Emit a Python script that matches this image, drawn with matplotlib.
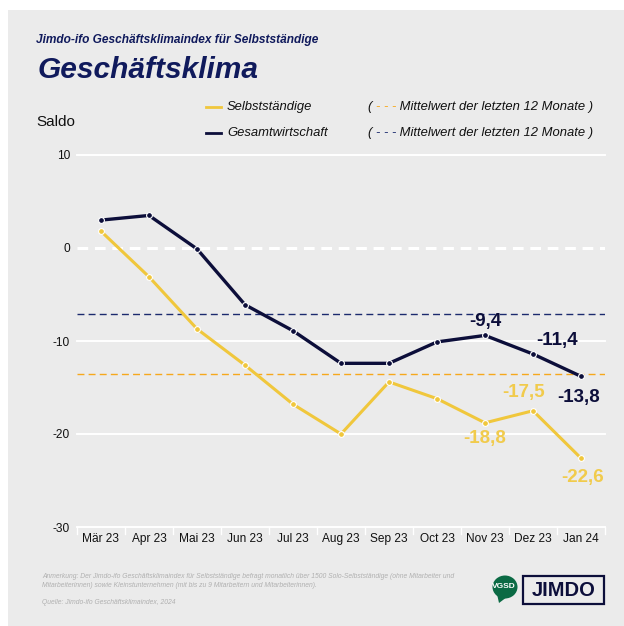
import matplotlib
matplotlib.use("Agg")
import matplotlib.pyplot as plt
from matplotlib.lines import Line2D
from matplotlib.patches import Rectangle, Ellipse, Polygon

plt.rcParams['font.family'] = ['Liberation Sans', 'DejaVu Sans']

# ---------------- data ----------------
months = ["Mär 23", "Apr 23", "Mai 23", "Jun 23", "Jul 23", "Aug 23",
          "Sep 23", "Oct 23", "Nov 23", "Dez 23", "Jan 24"]
selbst = [1.8, -3.1, -8.7, -12.6, -16.8, -20.0, -14.4, -16.2, -18.8, -17.5, -22.6]
gesamt = [3.0, 3.5, -0.1, -6.1, -8.9, -12.4, -12.4, -10.1, -9.4, -11.4, -13.8]
mean_selbst = -13.6
mean_gesamt = -7.1
yticks = [10, 0, -10, -20, -30]

# labelled points: (index, dx_pt, dy_pt)
labels_gesamt = [(8, 0, 10), (9, 17, 10), (10, -2, -15)]
labels_selbst = [(9, -7, 13), (8, 0, -11), (10, 1, -14)]

NAVY = "#0c0e3a"
NAVY_T = "#101a5c"
YELLOW = "#f0c73c"
YELLOW_T = "#f1cb4c"
ORANGE = "#f6a81c"
NAVY_D = "#1b2a6e"
BG = "#ebebeb"

W, H = 624, 626
fig = plt.figure(figsize=(W / 100, H / 100), dpi=100, facecolor="white")

def fx(px):
    return px / W

def fy(py):
    return 1 - py / H

# gray panel
fig.add_artist(Rectangle((fx(8), 0), 1 - fx(8), fy(10), transform=fig.transFigure,
                         facecolor=BG, edgecolor="none", zorder=0))

ax = fig.add_axes([fx(77), fy(527), fx(605) - fx(77), fy(155) - fy(527)])
ax.set_facecolor(BG)
for s in ax.spines.values():
    s.set_visible(False)

x = list(range(len(months)))
ax.set_xlim(-0.5, len(months) - 0.5)
ax.set_ylim(-30, 10)

# gridlines
for v in yticks:
    if v == 0:
        ax.axhline(v, color="white", lw=2.2, ls=(0, (3.5, 2.2)), zorder=1)
    else:
        ax.axhline(v, color="white", lw=1.4, zorder=1, clip_on=False)

# mean lines
ax.axhline(mean_gesamt, color=NAVY_D, lw=1.0, ls=(0, (5, 3)), zorder=2)
ax.axhline(mean_selbst, color=ORANGE, lw=1.0, ls=(0, (5, 3)), zorder=2)

ax.plot(x, selbst, color=YELLOW, lw=2.2, marker="o", ms=4.2,
        markerfacecolor=YELLOW, markeredgecolor="white", markeredgewidth=0.8, zorder=3,
        solid_joinstyle="round")
ax.plot(x, gesamt, color=NAVY, lw=2.4, marker="o", ms=4.2,
        markerfacecolor=NAVY, markeredgecolor="white", markeredgewidth=0.8, zorder=4,
        solid_joinstyle="round")

def fmt(v):
    return f"{v:.1f}".replace(".", ",")

for i, dx, dy in labels_gesamt:
    ax.annotate(fmt(gesamt[i]), (x[i], gesamt[i]), xytext=(dx, dy), textcoords="offset points",
                ha="center", va="center", fontsize=13.5, fontweight="bold", color=NAVY, zorder=6)
for i, dx, dy in labels_selbst:
    ax.annotate(fmt(selbst[i]), (x[i], selbst[i]), xytext=(dx, dy), textcoords="offset points",
                ha="center", va="center", fontsize=13.5, fontweight="bold", color=YELLOW_T, zorder=6)

ax.set_xticks(x)
ax.set_xticklabels(months, fontsize=8.6, color="#111111")
ax.set_yticks(yticks)
ax.set_yticklabels([str(v) for v in yticks], fontsize=8.6, color="#111111")
ax.tick_params(axis="both", length=0)
ax.tick_params(axis="x", pad=4)
ax.tick_params(axis="y", pad=5)
# white separators between category labels
for b in range(len(months) + 1):
    ax.plot([b - 0.5, b - 0.5], [-30, -30.8], color="white", lw=1.0, clip_on=False, zorder=1)

# titles
fig.text(fx(36), fy(39.5), "Jimdo-ifo Geschäftsklimaindex für Selbstständige", fontsize=8.6,
         fontweight="bold", fontstyle="italic", color=NAVY_T, ha="left", va="center")
fig.text(fx(38), fy(70), "Geschäftsklima", fontsize=21.5, fontweight="bold", fontstyle="italic",
         color=NAVY_T, ha="left", va="center")
fig.text(fx(36), fy(122), "Saldo", fontsize=11, color="#111111", ha="left", va="center")

# legend
FS_LEG = 9.4
leg = [("Selbstständige", YELLOW, ORANGE, 107), ("Gesamtwirtschaft", NAVY, NAVY_D, 133)]
for name, c, dc, py in leg:
    fig.add_artist(Line2D([fx(206), fx(221)], [fy(py), fy(py)], color=c, lw=2.0,
                          transform=fig.transFigure))
    fig.text(fx(227), fy(py), name, fontsize=FS_LEG, fontstyle="italic", color="#111111",
             ha="left", va="center")
    t1 = fig.text(fx(368), fy(py), "( ", fontsize=FS_LEG, fontstyle="italic", color="#111111",
                  ha="left", va="center")
    t2 = ax.annotate("- - -", xy=(1, 0.5), xycoords=t1, xytext=(0, 0), textcoords="offset points",
                     fontsize=FS_LEG, fontstyle="italic", color=dc, ha="left", va="center",
                     annotation_clip=False)
    ax.annotate(" Mittelwert der letzten 12 Monate )", xy=(1, 0.5), xycoords=t2, xytext=(0, 0),
                textcoords="offset points", fontsize=FS_LEG, fontstyle="italic", color="#111111",
                ha="left", va="center", annotation_clip=False)

# footnotes
note_c = "#b0b0b0"
FS_NOTE = 4.9
fig.text(fx(42), fy(576.5), "Anmerkung: Der Jimdo-ifo Geschäftsklimaindex für Selbstständige befragt monatlich über 1500 Solo-Selbstständige (ohne Mitarbeiter und",
         fontsize=FS_NOTE, fontstyle="italic", color=note_c, ha="left", va="center")
fig.text(fx(42), fy(585.5), "Mitarbeiterinnen) sowie Kleinstunternehmen (mit bis zu 9 Mitarbeitern und Mitarbeiterinnen).",
         fontsize=FS_NOTE, fontstyle="italic", color=note_c, ha="left", va="center")
fig.text(fx(42), fy(602.5), "Quelle: Jimdo-ifo Geschäftsklimaindex, 2024",
         fontsize=FS_NOTE, fontstyle="italic", color=note_c, ha="left", va="center")

# logos
GREEN = "#0b6a44"
fig.add_artist(Ellipse((fx(505), fy(587)), fx(25), 23 / H, transform=fig.transFigure,
                       facecolor=GREEN, edgecolor="none"))
fig.add_artist(Polygon([(fx(497), fy(594)), (fx(507), fy(597)), (fx(499), fy(603))],
                       closed=True, transform=fig.transFigure, facecolor=GREEN, edgecolor="none"))
fig.text(fx(504), fy(587), "VGSD", fontsize=6.0, fontweight="bold", color="white",
         ha="center", va="center")
fig.add_artist(Rectangle((fx(523), fy(604)), fx(604) - fx(523), fy(576) - fy(604),
                         transform=fig.transFigure, facecolor="none", edgecolor=NAVY, lw=1.6))
fig.text(fx(563.5), fy(590), "JIMDO", fontsize=14.5, fontweight="bold", color=NAVY,
         ha="center", va="center")

fig.savefig("out.png", dpi=100, facecolor="white")
